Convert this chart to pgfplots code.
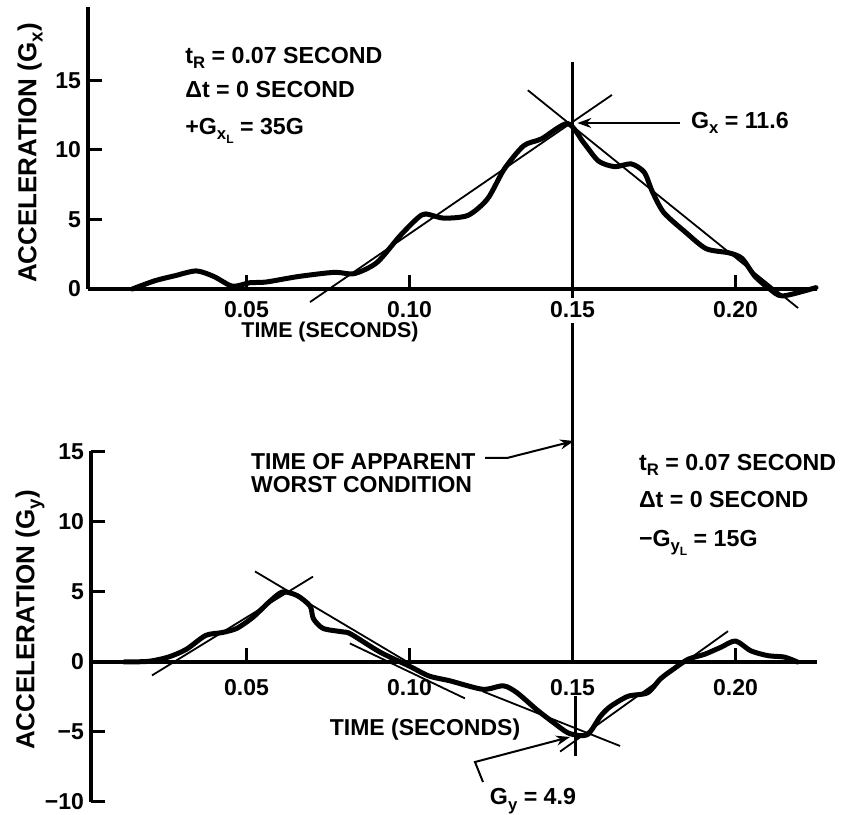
\documentclass[border=0pt]{standalone}
\usepackage{graphicx}
\usepackage{pgfplots}
\pgfplotsset{compat=1.18}
\usepackage{fontspec}
\setmainfont{Liberation Sans}
\usetikzlibrary{arrows.meta}
\newcommand\sub[1]{\raisebox{-0.45ex}{\scalebox{0.72}{#1}}}
\newcommand\fnt{\bfseries\fontsize{11.5}{13}\selectfont}
\newcommand\fntb{\bfseries\fontsize{11.6}{14}\selectfont}
\newcommand\fnty{\bfseries\fontsize{13}{15}\selectfont}
\begin{document}
\begin{tikzpicture}[font=\fnt]
\useasboundingbox (0,0) rectangle (426.5pt,407.5pt);
\pgfplotsset{myax/.style={scale only axis, clip=false,
  axis line style={line width=1.7pt},
  tick style={line width=1.5pt,black},
  tick align=inside, major tick length=7pt,
  tick label style={font=\fnt},
  xtick={0.05,0.10,0.15,0.20}, xticklabels={0.05,0.10,0.15,0.20},
  hide obscured x ticks=false, hide obscured y ticks=false}}
% ---------------- top: Gx ----------------
\begin{axis}[myax, at={(44pt,263pt)}, anchor=south west,
  width=364.5pt, height=141.1pt,
  xmin=0.0014, xmax=0.225, ymin=0, ymax=20.3,
  axis lines*=left, xticklabel shift=2.5pt,
  ytick={0,5,10,15}, yticklabels={0,5,10,15}]
\addplot[line width=2.5pt, line cap=round, line join=round, smooth, tension=0.45] coordinates {
(0.015,0.0) (0.022,0.6) (0.028,0.95) (0.0346,1.3) (0.040,0.9) (0.0457,0.2)
(0.051,0.45) (0.056,0.5) (0.066,0.9) (0.077,1.2) (0.083,1.1) (0.090,1.9)
(0.097,3.8) (0.1025,5.1) (0.105,5.4) (0.1105,5.1) (0.118,5.3) (0.124,6.5)
(0.129,8.6) (0.135,10.3) (0.1405,10.8) (0.1485,11.9) (0.1535,10.5) (0.158,9.2)
(0.163,8.8) (0.168,9.0) (0.172,8.4) (0.1745,7.0) (0.178,5.5) (0.1846,4.1)
(0.191,2.9) (0.198,2.6) (0.202,2.2) (0.206,0.9) (0.2105,0.0) (0.2145,-0.5) (0.2247,0.1)};
\addplot[line width=0.9pt] coordinates {(0.0695,-0.94) (0.1621,13.96)};
\addplot[line width=0.9pt] coordinates {(0.1363,14.3) (0.2192,-1.37)};
\addplot[line width=1.5pt] coordinates {(0.15,16.3) (0.15,-0.65)};
\draw[line width=1pt, -{Stealth[length=7pt,width=5pt]}] (axis cs:0.183,11.94) -- (axis cs:0.1515,11.94);
\end{axis}
% ---------------- bottom: Gy ----------------
\begin{axis}[myax, at={(45.5pt,6.5pt)}, anchor=south west,
  width=363pt, height=175.7pt,
  xmin=0.0023, xmax=0.225, ymin=-10, ymax=15.1,
  axis x line*=middle, axis y line*=left, xticklabel shift=5pt,
  ytick={-10,-5,0,5,10,15}, yticklabels={−10,−5,0,5,10,15}]
\addplot[line width=2.5pt, line cap=round, line join=round, smooth, tension=0.45] coordinates {
(0.0125,0) (0.020,0.05) (0.026,0.35) (0.0315,0.9) (0.0375,1.9) (0.0425,2.1)
(0.047,2.4) (0.052,3.2) (0.057,4.3) (0.061,5.0) (0.0655,4.75) (0.0695,4.0)
(0.0705,3.1) (0.0735,2.4) (0.0795,2.15) (0.082,2.0) (0.091,0.7) (0.100,-0.3)
(0.106,-1.0) (0.1125,-1.35) (0.1225,-1.95) (0.1288,-1.7) (0.133,-2.2) (0.139,-3.4)
(0.144,-4.3) (0.149,-5.1) (0.1545,-5.2) (0.1585,-3.9) (0.1615,-3.2) (0.167,-2.45)
(0.173,-2.2) (0.177,-1.2) (0.181,-0.5) (0.1855,0.2) (0.1905,0.55) (0.1955,1.05)
(0.200,1.5) (0.2047,0.8) (0.210,0.45) (0.215,0.35) (0.219,0.0)};
\addplot[line width=0.9pt] coordinates {(0.021,-0.96) (0.0704,6.1)};
\addplot[line width=0.9pt] coordinates {(0.0526,6.47) (0.1001,-0.1)};
\addplot[line width=0.9pt] coordinates {(0.0817,1.33) (0.117,-2.6)};
\addplot[line width=0.9pt] coordinates {(0.1225,-2.1) (0.1646,-6.0)};
\addplot[line width=0.9pt] coordinates {(0.1462,-6.4) (0.1977,2.2)};
\addplot[line width=1.5pt] coordinates {(0.15,24.2) (0.15,0)};
\addplot[line width=1.5pt] coordinates {(0.151,-2.4) (0.151,-6.7)};
\end{axis}
% ---------------- labels ----------------
\node[rotate=90, font=\fnty] at (15pt,331pt) {ACCELERATION (G\sub{x})};
\node[rotate=90, font=\fnty] at (15pt,97.5pt) {ACCELERATION (G\sub{y})};
\node[font=\bfseries\fontsize{10.7}{12}\selectfont] at (165pt,241.5pt) {TIME (SECONDS)};
\node at (212.5pt,42.5pt) {TIME (SECONDS)};
\node[anchor=west, inner sep=0pt, font=\fntb] at (92.5pt,378.5pt) {t\sub{R} = 0.07 SECOND};
\node[anchor=west, inner sep=0pt, font=\fntb] at (92.5pt,362.5pt) {Δt = 0 SECOND};
\node[anchor=west, inner sep=0pt, font=\fntb] at (92.5pt,342pt) {+G\sub{x\sub{L}} = 35G};
\node[anchor=west, font=\fntb] at (342pt,346pt) {G\sub{x} = 11.6};
\node[anchor=west, font=\fntb] at (316pt,175pt) {t\sub{R} = 0.07 SECOND};
\node[anchor=west, font=\fntb] at (316pt,157.5pt) {Δt = 0 SECOND};
\node[anchor=west, font=\fntb] at (316pt,136pt) {−G\sub{y\sub{L}} = 15G};
\node[anchor=west] at (122pt,176.5pt) {TIME OF APPARENT};
\node[anchor=west] at (122pt,165pt) {WORST CONDITION};
\draw[line width=1pt, -{Stealth[length=7pt,width=5pt]}] (242.5pt,178.5pt) -- (253.5pt,178.5pt) -- (287pt,187pt);
\node[font=\fntb] at (266.5pt,7pt) {G\sub{y} = 4.9};
\draw[line width=1pt, -{Stealth[length=7pt,width=5pt]}] (241.5pt,16.5pt) -- (237.5pt,26.5pt) -- (285pt,39pt);
\end{tikzpicture}
\end{document}
